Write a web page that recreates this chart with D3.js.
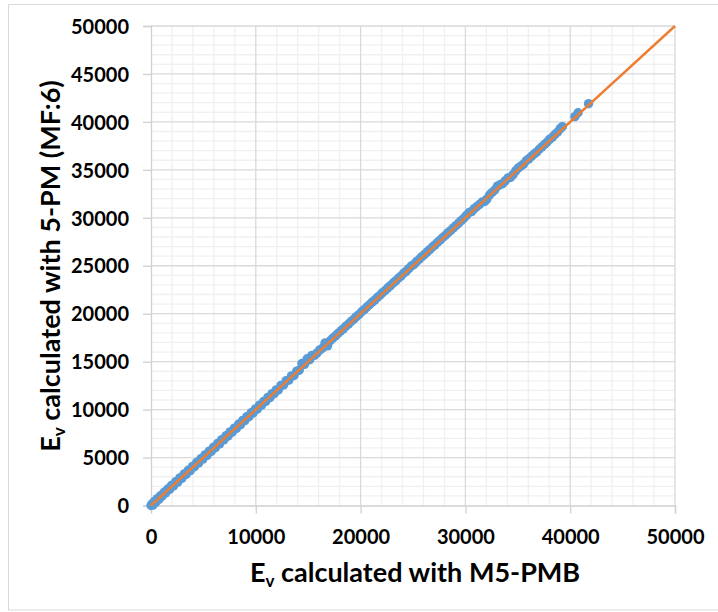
<!DOCTYPE html>
<html>
<head>
<meta charset="utf-8">
<script src="https://cdn.jsdelivr.net/npm/d3@7"></script>
<style>
  html, body { margin: 0; padding: 0; background: #fff; }
  svg { display: block; }
  text { font-family: Lato, "Open Sans", sans-serif; font-weight: 700; fill: #000; }
</style>
</head>
<body>
<svg id="chart" width="718" height="612"></svg>
<script>
// Ev computed with M5-PMB (x) and with 5-PM, MF:6 (y)
const evM5PMB = [
  0, 100, 180, 320, 450, 600, 760, 900, 1050, 1250, 1400, 1600, 1780, 1950, 2150, 2350, 2550, 2750, 2950,
  3150, 3350, 3550, 3750, 3950, 4150, 4350, 4550, 4750, 4950, 5150, 5350, 5550, 5750, 5950, 6150, 6350,
  6550, 6750, 6950, 7150, 7350, 7550, 7750, 7950, 8150, 8350, 8550, 8750, 8950, 9150, 9350, 9550, 9750,
  9950, 10150, 10350, 10550, 10750, 10950, 11150, 11350, 11550, 11750, 11950, 12150, 12400, 12650, 12900,
  13150, 13400, 13650, 13900, 14150, 14400, 14650, 14900, 15150, 15350, 15600, 15850, 16100, 16350, 16600,
  16850, 17100, 17350, 17600, 17850, 18100, 18350, 18600, 18850, 19100, 19350, 19600, 19850, 20100, 20350,
  20600, 20850, 21100, 21350, 21600, 21850, 22100, 22350, 22600, 22850, 23100, 23350, 23600, 23850, 24100,
  24350, 24600, 24850, 25100, 25350, 25600, 25850, 26100, 26350, 26600, 26850, 27100, 27350, 27600, 27850,
  28100, 28350, 28600, 28850, 29100, 29350, 29600, 29850, 30100, 30350, 30600, 30850, 31100, 31350, 31600,
  31850, 32050, 32300, 32550, 32800, 33050, 33300, 33550, 33800, 34050, 34300, 34550, 34800, 35050, 35300,
  35550, 35800, 36050, 36300, 36550, 36800, 37050, 37300, 37550, 37800, 38050, 38300, 38550, 38800, 39050,
  39250, 40450, 40750, 41750
];
const ev5PM = [
  0, 180, 40, 420, 330, 720, 640, 1020, 960, 1380, 1300, 1720, 1680, 2080, 2030, 2480, 2430, 2880, 2830,
  3280, 3230, 3680, 3640, 4070, 4040, 4480, 4430, 4870, 4840, 5280, 5230, 5670, 5640, 6070, 6040, 6470,
  6430, 6870, 6840, 7270, 7240, 7670, 7640, 8070, 8040, 8470, 8440, 8870, 8850, 9270, 9250, 9670, 9650,
  10060, 10050, 10470, 10450, 10860, 10850, 11270, 11250, 11670, 11650, 12060, 12050, 12520, 12560, 13020,
  13060, 13520, 13560, 14010, 14100, 14800, 14720, 15300, 15200, 15650, 15650, 15920, 16230, 16400, 16950,
  16650, 17180, 17450, 17680, 17950, 18200, 18420, 18700, 18930, 19200, 19420, 19700, 19920, 20200, 20420,
  20700, 20930, 21200, 21420, 21700, 21920, 22200, 22420, 22700, 22920, 23200, 23420, 23700, 23920, 24220,
  24420, 24700, 24980, 25150, 25450, 25680, 25950, 26180, 26450, 26680, 26950, 27180, 27450, 27680, 27950,
  28180, 28450, 28680, 28950, 29180, 29450, 29700, 29950, 30250, 30550, 30650, 30950, 31180, 31400, 31650,
  31700, 31950, 32380, 32650, 32900, 33300, 33450, 33550, 33850, 34150, 34200, 34500, 34900, 35200, 35400,
  35600, 35950, 36150, 36400, 36650, 36850, 37150, 37400, 37650, 37900, 38200, 38400, 38700, 38950, 39300,
  39500, 40550, 40950, 41900
];
// 1:1 reference line
const identityLine = [0, 50000];

const xTicks = [0, 10000, 20000, 30000, 40000, 50000];
const yTicks = [0, 5000, 10000, 15000, 20000, 25000, 30000, 35000, 40000, 45000, 50000];
const xMinorStep = 2000;
const yMinorStep = 1000;

const xTitle = { main: "E", sub: "v", rest: " calculated with M5-PMB" };
const yTitle = { main: "E", sub: "v", rest: " calculated with 5-PM (MF:6)" };

const svg = d3.select("#chart");
const plotL = 151, plotR = 675, plotT = 26, plotB = 505.5;

const x = d3.scaleLinear().domain([0, 50000]).range([plotL, plotR]);
const y = d3.scaleLinear().domain([0, 50000]).range([plotB, plotT]);

// outer frame
svg.append("rect")
  .attr("x", 8.5).attr("y", 4.5).attr("width", 740).attr("height", 605.5)
  .attr("fill", "#fff").attr("stroke", "#d9d9d9").attr("stroke-width", 1);

// minor grid
const xMinor = d3.range(0, 50001, xMinorStep).filter(v => !xTicks.includes(v));
const yMinor = d3.range(0, 50001, yMinorStep).filter(v => !yTicks.includes(v));
const grid = svg.append("g");
grid.selectAll(".vmin").data(xMinor).join("line")
  .attr("x1", d => x(d)).attr("x2", d => x(d)).attr("y1", plotT).attr("y2", plotB)
  .attr("stroke", "#f0f0f0").attr("stroke-width", 1.3);
grid.selectAll(".hmin").data(yMinor).join("line")
  .attr("x1", plotL).attr("x2", plotR).attr("y1", d => y(d)).attr("y2", d => y(d))
  .attr("stroke", "#f0f0f0").attr("stroke-width", 1.3);

// major grid
grid.selectAll(".vmaj").data(xTicks.slice(1)).join("line")
  .attr("x1", d => x(d)).attr("x2", d => x(d)).attr("y1", plotT).attr("y2", plotB)
  .attr("stroke", "#d9d9d9").attr("stroke-width", 1.3);
grid.selectAll(".hmaj").data(yTicks.slice(1)).join("line")
  .attr("x1", plotL).attr("x2", plotR).attr("y1", d => y(d)).attr("y2", d => y(d))
  .attr("stroke", "#d9d9d9").attr("stroke-width", 1.3);

// axes
const xAxis = d3.axisBottom(x).tickValues(xTicks).tickSize(8).tickPadding(14)
  .tickFormat(d3.format("d"));
const yAxis = d3.axisLeft(y).tickValues(yTicks).tickSize(8).tickPadding(14)
  .tickFormat(d3.format("d"));

const gx = svg.append("g").attr("transform", `translate(0,${plotB})`).call(xAxis);
const gy = svg.append("g").attr("transform", `translate(${plotL},0)`).call(yAxis);
[gx, gy].forEach(g => {
  g.select(".domain").attr("stroke", "#d0d0d0").attr("stroke-width", 1.3);
  g.selectAll(".tick line").attr("stroke", "#d0d0d0").attr("stroke-width", 1.3);
  g.selectAll(".tick text").style("font-size", "20px").style("font-family", "Lato, sans-serif")
    .style("font-weight", 700).attr("fill", "#000");
});
gx.selectAll(".tick text").attr("dy", "0.8em");
gy.selectAll(".tick text").attr("dy", "0.36em");
gy.selectAll(".tick text").attr("x", -22);

// points
const pts = evM5PMB.map((v, i) => [v, ev5PM[i]]);
svg.append("g").selectAll("circle").data(pts).join("circle")
  .attr("cx", d => x(d[0])).attr("cy", d => y(d[1])).attr("r", 4.7)
  .attr("fill", "#5b9bd5");

// identity line
svg.append("line")
  .attr("x1", x(identityLine[0])).attr("y1", y(identityLine[0]))
  .attr("x2", x(identityLine[1])).attr("y2", y(identityLine[1]))
  .attr("stroke", "#ed7d31").attr("stroke-width", 2.4);

// axis titles
function title(g, t) {
  const txt = g.append("text").attr("text-anchor", "middle").style("font-size", "27px");
  txt.append("tspan").text(t.main);
  txt.append("tspan").text(t.sub).attr("baseline-shift", "-30%").style("font-size", "17px");
  txt.append("tspan").text(t.rest);
  return txt;
}
title(svg.append("g").attr("transform", "translate(415,582)"), xTitle);
title(svg.append("g").attr("transform", "translate(60,266) rotate(-90)"), yTitle);
</script>
</body>
</html>
